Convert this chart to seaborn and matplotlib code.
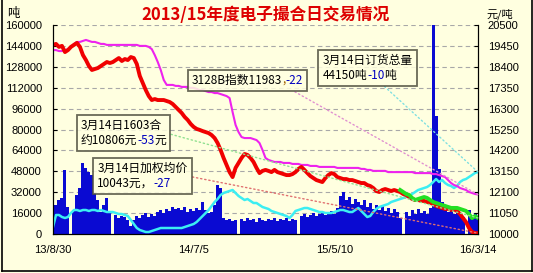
import matplotlib
matplotlib.use("Agg")
import matplotlib.pyplot as plt
import numpy as np
import pandas as pd
import seaborn as sns
from matplotlib.offsetbox import TextArea, HPacker, VPacker, AnnotationBbox
from matplotlib.lines import Line2D

CJK = ["Noto Sans CJK SC", "DejaVu Sans"]
BG = "#FFFFE0"

title = "2013/15年度电子撮合日交易情况"
date_ticks = [0, 47, 94, 142]
date_labels = ["13/8/30", "14/7/5", "15/5/10", "16/3/14"]
left_ticks = [0, 16000, 32000, 48000, 64000, 80000, 96000, 112000, 128000, 144000, 160000]
right_ticks = [10000, 11050, 12100, 13150, 14200, 15250, 16300, 17350, 18400, 19450, 20500]

# daily volume (tons, left axis)
volume = [
    20670, 22200, 26030, 27560, 48990, 20670, 0, 18370, 29850, 35210,
    54350, 50520, 47460, 45160, 31390, 26030, 16840, 22200, 27560, 16080,
    0, 14540, 12250, 13780, 13010, 10720, 6120, 10720, 13780, 12250,
    14540, 16080, 13010, 15310, 13780, 16840, 18370, 16080, 19140, 17610,
    20670, 19140, 19900, 18370, 20670, 16840, 19140, 17610, 19900, 18370,
    24500, 18370, 16080, 16840, 22200, 37510, 35210, 12250, 10720, 11480,
    9950, 10720, 0, 11480, 9950, 12250, 10720, 11480, 9190, 12250,
    10720, 9950, 11480, 10720, 12250, 9950, 11480, 10720, 12250, 9950,
    11480, 10720, 0, 13780, 15310, 13010, 14540, 16080, 13780, 15310,
    16840, 14540, 16080, 17610, 15310, 19900, 29090, 32150, 26030, 28320,
    22970, 26790, 24500, 22200, 26030, 20670, 23730, 19140, 22200, 18370,
    21430, 17610, 19900, 16080, 19140, 16840, 12250, 0, 16840, 13780,
    18370, 15310, 19140, 16080, 17610, 15310, 19900, 161000, 90000, 50000,
    24500, 19140, 16840, 18370, 15310, 17610, 16080, 13010, 0, 18370,
    13010, 16080, 12250,
]

# total open orders (tons, left axis)
order_total = [
    5360, 14540, 14540, 13010, 12250, 13010, 16080, 18370, 18370, 17610,
    18370, 18370, 17610, 18370, 18370, 17610, 18370, 17610, 16840, 16840,
    16840, 16080, 15310, 15310, 14540, 13780, 10720, 7660, 4590, 3060,
    2300, 1530, 1530, 2300, 3060, 3830, 4590, 4590, 4590, 4590,
    4590, 4590, 4590, 4590, 5360, 6120, 6890, 7660, 9190, 11480,
    13780, 16080, 18370, 21430, 24500, 26790, 29860, 31390, 32150, 32920,
    33680, 31390, 29090, 27560, 26030, 26790, 25260, 23730, 23730, 22200,
    20670, 19900, 19140, 17610, 16840, 16080, 15310, 14540, 13780, 12250,
    14540, 17610, 18370, 19140, 19900, 19900, 19140, 18370, 17610, 16840,
    16840, 16080, 16080, 16080, 16840, 17610, 18370, 18370, 17610, 16840,
    16840, 18370, 19900, 17610, 15310, 13010, 13780, 16840, 19140, 20670,
    21430, 22200, 22970, 24500, 25260, 26030, 26790, 27560, 28320, 29090,
    30620, 32150, 33680, 34450, 35210, 35980, 37510, 39810, 42100, 39810,
    41340, 39040, 37510, 36740, 35210, 36740, 39810, 41340, 42100, 43630,
    45170, 46700, 47460,
]

# weighted average price (yuan/ton, right axis)
avg_price = [
    19500, 19550, 19400, 19450, 19140, 19240, 19400, 19500, 19600, 19400,
    18990, 18740, 18440, 18240, 18290, 18340, 18440, 18540, 18640, 18590,
    18640, 18740, 18840, 18690, 18790, 18740, 18890, 18840, 18540, 17940,
    17590, 17230, 16930, 16730, 16780, 16730, 16730, 16730, 16680, 16630,
    16530, 16380, 16230, 16080, 15880, 15730, 15530, 15380, 15280, 15230,
    15170, 15120, 15070, 14970, 14820, 14570, 14220, 13820, 13470, 13110,
    12860, 13320, 13570, 13820, 14020, 13970, 13820, 13620, 13320, 13060,
    13170, 13220, 13170, 13110, 13220, 13110, 13060, 13010, 12960, 12960,
    13010, 13110, 13270, 13370, 13220, 13060, 12910, 12810, 12710, 12660,
    12610, 12810, 12960, 13060, 13010, 12860, 12810, 12760, 12760, 12710,
    12710, 12660, 12610, 12560, 12560, 12460, 12410, 12310, 12160, 12110,
    12210, 12260, 12210, 12160, 12210, 12160, 12110, 12010, 11960, 11860,
    11760, 11710, 11710, 11660, 11660, 11610, 11560, 11510, 11410, 11360,
    11310, 11260, 11260, 11210, 11210, 11160, 11000, 10800, 10600, 10300,
    10100, 10050, 10043,
]

# 3128B index (right axis)
index_3128b = [
    19240, 19240, 19190, 19190, 19240, 19290, 19400, 19550, 19650, 19650,
    19700, 19750, 19700, 19650, 19650, 19600, 19550, 19550, 19500, 19500,
    19500, 19500, 19500, 19500, 19500, 19500, 19500, 19500, 19500, 19450,
    19450, 19450, 19400, 19290, 18990, 18640, 18240, 17740, 17490, 17490,
    17490, 17440, 17440, 17390, 17390, 17390, 17340, 17340, 17290, 17230,
    17230, 17180, 17130, 17130, 17080, 17080, 17030, 16980, 16930, 16830,
    16130, 15480, 15120, 14870, 14820, 14820, 14820, 14770, 14720, 14570,
    14220, 13820, 13720, 13670, 13620, 13620, 13620, 13570, 13570, 13570,
    13520, 13520, 13520, 13470, 13470, 13470, 13420, 13420, 13420, 13370,
    13370, 13370, 13370, 13370, 13370, 13320, 13320, 13320, 13320, 13320,
    13320, 13320, 13320, 13270, 13270, 13220, 13220, 13170, 13170, 13170,
    13170, 13170, 13110, 13110, 13110, 13110, 13110, 13110, 13110, 13110,
    13110, 13060, 13060, 13060, 13060, 13060, 13060, 13010, 13010, 12960,
    12910, 12860, 12710, 12560, 12460, 12410, 12310, 12260, 12210, 12110,
    12060, 12010, 11983,
]

# 1603 contract price, shown for the last days only (right axis)
contract_start = 116
contract_1603 = [
    12210, 12110, 12010, 11960, 11810, 11710, 11760, 11810, 11860, 11810,
    11710, 11610, 11560, 11510, 11460, 11410, 11360, 11310, 11310, 11310,
    11260, 11210, 11160, 11000, 10800, 10900, 10806,
]

BLUE_TXT = "#0000C0"
box_1603 = [[("3月14日1603合", "black")],
            [("约10806元", "black"), ("-53", BLUE_TXT), ("元", "black")]]
box_avg = [[("3月14日加权均价", "black")],
           [("10043元，", "black"), ("-27", BLUE_TXT)]]
box_3128 = [[("3128B指数11983", "black"), (",", "#A06000"), ("-22", BLUE_TXT)]]
box_orders = [[("3月14日订货总量", "black")],
              [("44150吨", "black"), ("-10", BLUE_TXT), ("吨", "black")]]


def make_box(lines):
    rows = []
    for line in lines:
        parts = [TextArea(t, textprops=dict(color=c, fontsize=8.5, family=CJK)) for t, c in line]
        rows.append(HPacker(children=parts, sep=0, pad=0, align="baseline"))
    return VPacker(children=rows, sep=1, pad=0, align="left")


idx = np.arange(len(volume))

fig = plt.figure(figsize=(5.33, 2.73), dpi=100, facecolor=BG)
ax = fig.add_axes([53 / 533, 39 / 273, 425 / 533, 209 / 273])
ax.set_facecolor(BG)

df = pd.DataFrame({"i": idx, "volume": volume, "orders": order_total})
sns.barplot(data=df, x="i", y="volume", ax=ax, color="#0A0AD2", saturation=1,
            width=1.0, linewidth=0, native_scale=True, errorbar=None)
sns.lineplot(data=df, x="i", y="orders", ax=ax, color="#3CEEF2", lw=1.8)

ax.set_xlim(0, len(volume) - 1)
ax.set_ylim(0, 160000)
ax.set_yticks(left_ticks)
ax.set_yticklabels([str(v) for v in left_ticks])
ax.set_xticks(date_ticks)
ax.set_xticklabels(date_labels)
ax.set_xlabel("")
ax.set_ylabel("")
ax.yaxis.grid(True, color="#A8A8A8", linestyle=(0, (4, 3)), lw=0.8)
ax.set_axisbelow(True)
ax.tick_params(axis="y", direction="in", length=3, pad=8, labelsize=8)
ax.tick_params(axis="x", length=0, pad=8, labelsize=8)
for lab in ax.get_xticklabels() + ax.get_yticklabels():
    lab.set_family("Liberation Sans")
ax.spines["top"].set_visible(False)

ax2 = ax.twinx()
sns.lineplot(x=idx, y=index_3128b, ax=ax2, color="#EE22EE", lw=1.5)
sns.lineplot(x=idx, y=avg_price, ax=ax2, color="#F00000", lw=2.8)
sns.lineplot(x=idx[contract_start:], y=contract_1603, ax=ax2, color="#22E022", lw=2.8)
ax2.set_ylim(10000, 20500)
ax2.set_yticks(right_ticks)
ax2.set_yticklabels([str(v) for v in right_ticks])
ax2.tick_params(axis="y", direction="in", length=3, pad=7, labelsize=8)
for lab in ax2.get_yticklabels():
    lab.set_family("Liberation Sans")
ax2.spines["top"].set_visible(False)
ax2.set_xlim(0, len(volume) - 1)

last = len(volume) - 1
boxes = [
    (box_1603, ax2.transData, (last, contract_1603[-1]), (123.5, 140), (1, 0.5), "#90E090"),
    (box_avg, ax2.transData, (last, avg_price[-1]), (142.5, 97), (1, 0.5), "#E07070"),
    (box_3128, ax2.transData, (last, index_3128b[-1]), (247.5, 192.5), (0.85, 0), "#E090D0"),
    (box_orders, ax.transData, (last, order_total[-1]), (367.5, 205), (0.63, 0), "#80E0E0"),
]
for lines, trans, xy, center, relpos, lc in boxes:
    ab = AnnotationBbox(make_box(lines), xy, xybox=center, xycoords=trans,
                        boxcoords="figure pixels", box_alignment=(0.5, 0.5), pad=0.3,
                        bboxprops=dict(boxstyle="square", fc=BG, ec="#505040", lw=1.3, alpha=0.85),
                        arrowprops=dict(arrowstyle="-", linestyle=(0, (1, 2)), color=lc, lw=1,
                                        relpos=relpos, shrinkA=0, shrinkB=0),
                        annotation_clip=False, zorder=6)
    ax2.add_artist(ab)

fig.text(266 / 533, 1 - 15 / 273, title, ha="center", va="center", color="#DD0000",
         fontsize=12, fontweight="bold", family=CJK)
fig.text(13 / 533, 1 - 14 / 273, "吨", ha="center", va="center", fontsize=9, family=CJK)
fig.text(500 / 533, 1 - 14 / 273, "元/吨", ha="center", va="center", fontsize=8, family=CJK)

# outer frame
W, H = 533, 273
for xs, ys in [([1.5, 1.5], [2.5, H]), ([1.5, 531.5], [2.5, 2.5]), ([531.5, 531.5], [2.5, H])]:
    fig.add_artist(Line2D([x / W for x in xs], [y / H for y in ys], color="black", lw=1.2,
                          transform=fig.transFigure))

fig.savefig("out.png", dpi=100, facecolor=BG)
